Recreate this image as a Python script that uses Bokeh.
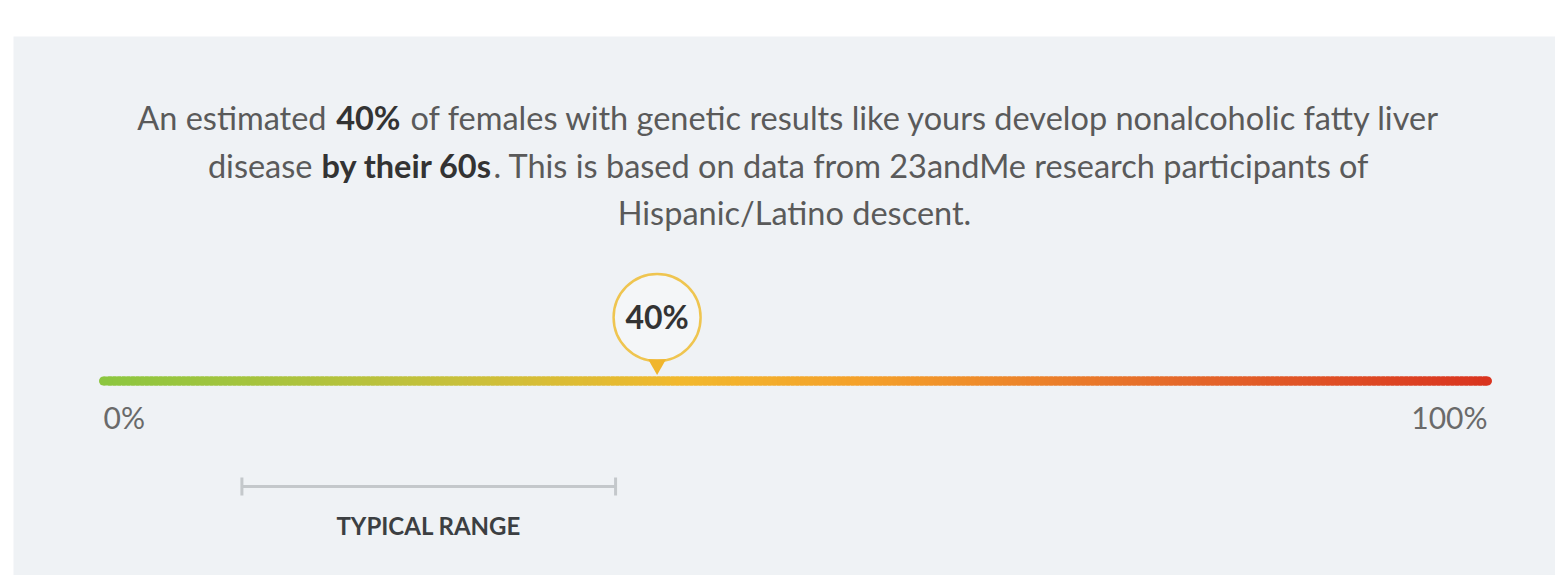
from bokeh.plotting import figure
from bokeh.models import Range1d
from bokeh.embed import file_html
from bokeh.resources import INLINE
from bokeh.core.properties import value

# ---------------- data ----------------
scale_ticks = [0, 100]
scale_tick_labels = ["0%", "100%"]
marker_value = [40]
marker_label = ["40%"]
typical_range = [10, 37]
typical_label = ["TYPICAL RANGE"]
grad_stops = [0.0, 0.25, 0.42, 0.55, 0.78, 1.0]
grad_colors = ["#8cc63f", "#c6c03b", "#f2b82d", "#f4a02a", "#e4682a", "#d9341f"]

line1 = ["An estimated", "40%", "of females with genetic results like yours develop nonalcoholic fatty liver"]
line2 = ["disease", "by their 60s", ". This is based on data from 23andMe research participants of"]
line3 = ["Hispanic/Latino descent."]

# ---------------- layout helpers ----------------
W, H = 1555, 575
X0_IMG, PX_PER_PCT = 103.0, 13.84


def px(xi):
    return (xi - X0_IMG) / PX_PER_PCT


FONT = value("Lato")
PANEL = "#eff2f5"

p = figure(width=W, height=H, output_backend="svg", toolbar_location=None,
           x_range=Range1d(px(0), px(W)), y_range=Range1d(H, 0),
           min_border=0, x_axis_location=None, y_axis_location=None,
           outline_line_color=None, background_fill_color="white",
           border_fill_color="white")
p.grid.visible = False

# panel
p.quad(left=[px(13)], right=[px(1600)], top=[36], bottom=[600],
       fill_color=PANEL, line_color=None)


def hex2rgb(h):
    h = h.lstrip("#")
    return tuple(int(h[i:i + 2], 16) for i in (0, 2, 4))


def grad(t):
    for i in range(len(grad_stops) - 1):
        a, b = grad_stops[i], grad_stops[i + 1]
        if a <= t <= b:
            f = (t - a) / (b - a)
            ca, cb = hex2rgb(grad_colors[i]), hex2rgb(grad_colors[i + 1])
            c = [round(ca[k] + (cb[k] - ca[k]) * f) for k in range(3)]
            return "#%02x%02x%02x" % tuple(c)
    return grad_colors[-1]


# gradient bar (overlapping slices to avoid seams)
N = 300
lo, hi = scale_ticks[0], scale_ticks[-1]
step = (hi - lo) / N
xs0 = [lo + step * i for i in range(N)]
xs1 = [min(hi, lo + step * (i + 1) + step * 0.8) for i in range(N)]
cols = [grad((i + 0.5) / N) for i in range(N)]
BAR_Y = 380.5
p.segment(x0=xs0, y0=[BAR_Y] * N, x1=xs1, y1=[BAR_Y] * N, line_color=cols,
          line_width=9, line_cap="butt")
p.scatter(x=[lo, hi], y=[BAR_Y] * 2, size=9, fill_color=[grad(0), grad(1)],
          line_color=None)

# scale labels
p.text(x=[scale_ticks[0]], y=[416], text=[scale_tick_labels[0]], text_font=FONT,
       text_font_size="30px", text_color="#6a6a6a", text_align="left",
       text_baseline="middle")
p.text(x=[scale_ticks[1]], y=[416], text=[scale_tick_labels[1]], text_font=FONT,
       text_font_size="30px", text_color="#6a6a6a", text_align="right",
       text_baseline="middle")

# marker
p.scatter(x=marker_value, y=[317], size=87, fill_color="#f4f6f8",
          line_color="#efc550", line_width=2.5)
p.scatter(x=marker_value, y=[364], marker="inverted_triangle", size=18,
          fill_color="#f0b52c", line_color=None)
p.text(x=marker_value, y=[316], text=marker_label, text_font=FONT,
       text_font_size="32px", text_font_style="bold", text_color="#333333",
       text_align="center", text_baseline="middle")

# typical range
TY = 486
p.segment(x0=[typical_range[0]], y0=[TY], x1=[typical_range[1]], y1=[TY],
          line_color="#c4c8cb", line_width=3)
p.segment(x0=typical_range, y0=[477, 477], x1=typical_range, y1=[495, 495],
          line_color="#c4c8cb", line_width=3)
p.text(x=[(typical_range[0] + typical_range[1]) / 2], y=[525], text=typical_label,
       text_font=FONT, text_font_size="24px", text_font_style="bold",
       text_color="#3c3f42", text_align="center", text_baseline="middle")

# paragraph
NORMAL = "#5a5a5a"
BOLD = "#333333"
FS = "32.5px"


def t(x, y, s, align, bold=False):
    p.text(x=[px(x)], y=[y], text=[s], text_font=FONT, text_font_size=FS,
           text_font_style="bold" if bold else "normal",
           text_color=BOLD if bold else NORMAL, text_align=align,
           text_baseline="middle")


Y1, Y2, Y3 = 116.5, 164.5, 212
t(326, Y1, line1[0], "right")
t(400, Y1, line1[1], "right", True)
t(410, Y1, line1[2], "left")
t(312, Y2, line2[0], "right")
t(492, Y2, line2[1], "right", True)
t(493, Y2, line2[2], "left")
t(794, Y3, line3[0], "center")

open("out.html", "w").write(file_html(p, INLINE))
